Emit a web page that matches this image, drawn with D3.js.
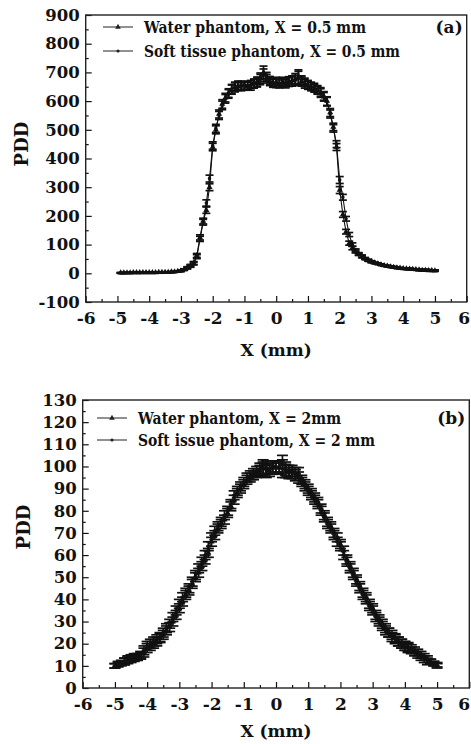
<!DOCTYPE html>
<html>
<head>
<meta charset="utf-8">
<script src="https://cdn.jsdelivr.net/npm/d3@7"></script>
<style>
  body { margin: 0; background: #fff; }
  text { font-family: "DejaVu Serif", "Liberation Serif", serif; font-weight: bold; fill: #111; }
</style>
</head>
<body>
<script>
// ---- panel (a) data : PDD vs X, X = 0.5 mm
var xTop = [-4.9,-4.8,-4.7,-4.6,-4.5,-4.4,-4.3,-4.2,-4.1,-4.0,
            -3.9,-3.8,-3.7,-3.6,-3.5,-3.4,-3.3,-3.2,-3.1,-3.0,
            -2.9,-2.8,-2.7,-2.6,-2.5,-2.4,-2.3,-2.2,-2.1,-2.0,
            -1.9,-1.8,-1.7,-1.6,-1.5,-1.4,-1.3,-1.2,-1.1,-1.0,
            -0.9,-0.8,-0.7,-0.6,-0.5,-0.4,-0.3,-0.2,-0.1,0.0,
            0.1,0.2,0.3,0.4,0.5,0.6,0.7,0.8,0.9,1.0,
            1.1,1.2,1.3,1.4,1.5,1.6,1.7,1.8,1.9,2.0,
            2.1,2.2,2.3,2.4,2.5,2.6,2.7,2.8,2.9,3.0,
            3.1,3.2,3.3,3.4,3.5,3.6,3.7,3.8,3.9,4.0,
            4.1,4.2,4.3,4.4,4.5,4.6,4.7,4.8,4.9,5.0];
var waterTop = [2,2,2,2,3,3,3,3,3,3,
                3,3,4,4,4,4,5,5,7,9,
                13,20,27,36,62,125,182,220,300,440,
                500,555,590,612,628,640,648,652,655,655,
                652,658,662,668,680,700,678,668,662,662,
                660,664,660,666,672,678,685,668,660,655,
                650,645,638,628,615,600,560,510,440,290,
                205,145,105,88,76,66,58,51,45,40,
                36,33,30,27,25,23,21,19,18,17,
                16,15,14,13,12,11,11,10,10,9];
var softTop = [1,1,2,2,2,2,2,3,3,3,
               3,3,3,3,4,4,4,5,6,8,
               12,18,25,34,58,120,178,245,330,445,
               505,550,585,608,625,642,650,655,650,652,
               655,652,660,665,675,690,685,672,665,668,
               662,668,665,670,668,672,680,672,665,658,
               652,648,640,632,618,598,555,505,450,325,
               265,190,135,100,80,68,60,52,46,41,
               37,34,31,28,26,24,22,20,18,17,
               16,15,14,13,12,12,11,11,10,10];
var errTop = [1,1,1,1,1,1,1,1,1,1,
              1,1,1,1,1,1,1,1,1,2,
              2,3,4,5,7,9,10,11,12,13,
              14,14,15,15,15,16,16,15,14,14,
              14,14,15,16,18,22,15,14,14,15,
              14,15,14,15,16,18,24,16,15,14,
              14,14,14,15,15,15,14,13,12,12,
              10,8,7,6,5,4,4,3,3,3,
              2,2,2,2,2,2,2,2,2,2,
              2,2,2,2,2,2,2,2,2,2];

// ---- panel (b) data : PDD vs X, X = 2 mm
var xBot = [-5.0,
            -4.9,-4.8,-4.7,-4.6,-4.5,-4.4,-4.3,-4.2,-4.1,-4.0,
            -3.9,-3.8,-3.7,-3.6,-3.5,-3.4,-3.3,-3.2,-3.1,-3.0,
            -2.9,-2.8,-2.7,-2.6,-2.5,-2.4,-2.3,-2.2,-2.1,-2.0,
            -1.9,-1.8,-1.7,-1.6,-1.5,-1.4,-1.3,-1.2,-1.1,-1.0,
            -0.9,-0.8,-0.7,-0.6,-0.5,-0.4,-0.3,-0.2,-0.1,0.0,
            0.1,0.2,0.3,0.4,0.5,0.6,0.7,0.8,0.9,1.0,
            1.1,1.2,1.3,1.4,1.5,1.6,1.7,1.8,1.9,2.0,
            2.1,2.2,2.3,2.4,2.5,2.6,2.7,2.8,2.9,3.0,
            3.1,3.2,3.3,3.4,3.5,3.6,3.7,3.8,3.9,4.0,
            4.1,4.2,4.3,4.4,4.5,4.6,4.7,4.8,4.9,5.0];
var waterBot = [10,
                10.5,11,12,12.5,13,13.5,14,14.5,16,18,
                19,20,21,22.5,24,26,27.5,30,33,36,
                39,42,44,47,50,52,55,58,61,66,
                69,72,74,76,79,82,85,88,90,92,
                94,95,96,97,98,99,99.5,99,100,100,
                100,101,99,98,98,97,97,94,92,90,
                88,86,84,81,78,75,73,70,68,65,
                62,58,55,52,49,46,43,41,38,36,
                33,31,29,27,25,24,22.5,21,20,19,
                18.5,18,17,16,15,14,13,12,11,10];
var softBot = [10,
               11,11.5,12,13,13.5,14,14,15,17,19,
               20,21,22,23,25,27,29,32,35,38,
               41,43,45,48,51,54,57,60,64,68,
               71,73,75,78,80,83,87,89,91,93,
               95,96,97,98,99,100,98,98,99,99,
               99,99,98,97,97,96,95,93,91,89,
               87,85,83,80,77,74,72,69,66,64,
               60,57,54,51,48,45,42,40,37,35,
               32,30,28,26,25,23,22,21,20,19,
               18,17,16,15,14,13,12,12,11,10.5];
var errBot = [1,
              1,1,1.5,1.5,1.5,1.5,1.5,1.5,2,2,
              2,2,2,2,2,2,2,2,2,2,
              2,2,2,2,2,2,2,2,2,2,
              2,2,2,2,2,2,2,2,2,2,
              2,2,2,2,2.5,3,3,2.5,2.5,2.5,
              2.5,4,3,2.5,2.5,2.5,2.5,2,2,2,
              2,2,2,2,2,2,2,2,2,2,
              2,2,2,2,2,2,2,2,2,2,
              2,2,2,2,2,2,2,2,2,2,
              2,1.5,1.5,1.5,1.5,1.5,1.5,1,1,1];

// tick labels
var xTicks = [-6,-5,-4,-3,-2,-1,0,1,2,3,4,5,6];
var xMinor = [-5.5,-4.5,-3.5,-2.5,-1.5,-0.5,0.5,1.5,2.5,3.5,4.5,5.5];
var yTicksTop = [-100,0,100,200,300,400,500,600,700,800,900];
var yMinorTop = [-50,50,150,250,350,450,550,650,750,850];
var yTicksBot = [0,10,20,30,40,50,60,70,80,90,100,110,120,130];
var yMinorBot = [5,15,25,35,45,55,65,75,85,95,105,115,125];

var legendTop = ['Water phantom, X = 0.5 mm', 'Soft tissue phantom, X = 0.5 mm'];
var legendBot = ['Water phantom, X = 2mm', 'Soft issue phantom, X = 2 mm'];

var svg = d3.select("body").append("svg")
    .attr("width", 471)
    .attr("height", 744);

drawPanel({
    left: 85.7, top: 15, width: 381, height: 287,
    yDomain: [-100, 900], yTicks: yTicksTop, yMinor: yMinorTop,
    x: xTop, water: waterTop, soft: softTop, err: errTop, cap: 4,
    legend: legendTop, legW: [222, 256], legX: 103, legY: [27, 51], tag: '(a)',
    yTitleX: 22, yTitleY: 144, xTitleY: 356
});

drawPanel({
    left: 82.7, top: 400, width: 386.6, height: 288,
    yDomain: [0, 130], yTicks: yTicksBot, yMinor: yMinorBot,
    x: xBot, water: waterBot, soft: softBot, err: errBot, cap: 5.5,
    legend: legendBot, legW: [203, 237], legX: 97, legY: [418, 440], tag: '(b)',
    yTitleX: 24, yTitleY: 527, xTitleY: 737
});

function drawPanel(p) {
    var g = svg.append("g").attr("transform", "translate(" + p.left + "," + p.top + ")");

    var x = d3.scaleLinear().domain([-6, 6]).range([0, p.width]);
    var y = d3.scaleLinear().domain(p.yDomain).range([p.height, 0]);

    // minor + major ticks (pointing inside)
    g.append("g").attr("transform", "translate(0," + p.height + ")")
        .call(d3.axisBottom(x).tickValues(xMinor).tickSize(-3).tickFormat(""));
    var xa = g.append("g").attr("transform", "translate(0," + p.height + ")")
        .call(d3.axisBottom(x).tickValues(xTicks).tickSize(-6).tickPadding(10)
            .tickFormat(function (d) { return String(d); }));
    g.append("g")
        .call(d3.axisLeft(y).tickValues(p.yMinor).tickSize(-3).tickFormat(""));
    var ya = g.append("g")
        .call(d3.axisLeft(y).tickValues(p.yTicks).tickSize(-6).tickPadding(6)
            .tickFormat(function (d) { return String(d); }));

    g.selectAll(".domain").remove();
    g.selectAll(".tick line").attr("stroke", "#111").attr("stroke-width", 1.2);
    g.selectAll(".tick text")
        .style("font-family", "'DejaVu Serif', 'Liberation Serif', serif")
        .style("font-weight", "bold");
    xa.selectAll("text").style("font-size", "17px");
    ya.selectAll("text").style("font-size", "16.5px");
    // last label sits on the page edge, keep it inside
    xa.selectAll(".tick text").filter(function (d) { return d == 6; })
        .attr("text-anchor", "end").attr("dx", 471 - p.left - p.width - 1.5);

    // frame
    g.append("rect")
        .attr("width", p.width).attr("height", p.height)
        .attr("fill", "none").attr("stroke", "#222").attr("stroke-width", 1.4);

    var series = [
        { vals: p.water, marker: "tri" },
        { vals: p.soft, marker: "dot" }
    ];

    series.forEach(function (s) {
        var pts = p.x.map(function (xv, i) { return { x: xv, y: s.vals[i], e: p.err[i] }; });

        g.append("path").datum(pts)
            .attr("fill", "none").attr("stroke", "#111").attr("stroke-width", 1.1)
            .attr("d", d3.line().x(function (d) { return x(d.x); }).y(function (d) { return y(d.y); }));

        var eb = g.append("g").attr("stroke", "#111").attr("stroke-width", 1.7);
        eb.selectAll(".ev").data(pts).enter().append("line")
            .attr("x1", function (d) { return x(d.x); }).attr("x2", function (d) { return x(d.x); })
            .attr("y1", function (d) { return y(d.y - d.e); }).attr("y2", function (d) { return y(d.y + d.e); });
        eb.selectAll(".ct").data(pts).enter().append("line")
            .attr("x1", function (d) { return x(d.x) - p.cap; }).attr("x2", function (d) { return x(d.x) + p.cap; })
            .attr("y1", function (d) { return y(d.y + d.e); }).attr("y2", function (d) { return y(d.y + d.e); });
        eb.selectAll(".cb").data(pts).enter().append("line")
            .attr("x1", function (d) { return x(d.x) - p.cap; }).attr("x2", function (d) { return x(d.x) + p.cap; })
            .attr("y1", function (d) { return y(d.y - d.e); }).attr("y2", function (d) { return y(d.y - d.e); });

        var sym = d3.symbol().type(s.marker == "tri" ? d3.symbolTriangle : d3.symbolCircle)
            .size(s.marker == "tri" ? 16 : 10);
        g.append("g").selectAll("path").data(pts).enter().append("path")
            .attr("d", sym)
            .attr("fill", "#111")
            .attr("transform", function (d) { return "translate(" + x(d.x) + "," + y(d.y) + ")"; });
    });

    // legend
    p.legend.forEach(function (label, i) {
        var ly = p.legY[i];
        svg.append("line")
            .attr("x1", p.legX).attr("x2", p.legX + 30).attr("y1", ly).attr("y2", ly)
            .attr("stroke", "#222").attr("stroke-width", 1);
        svg.append("path")
            .attr("d", d3.symbol().type(i == 0 ? d3.symbolTriangle : d3.symbolCircle).size(i == 0 ? 14 : 8))
            .attr("fill", "#222")
            .attr("transform", "translate(" + (p.legX + 15) + "," + ly + ")");
        svg.append("text")
            .attr("x", p.legX + 41).attr("y", ly).attr("dy", "0.36em")
            .attr("textLength", p.legW[i]).attr("lengthAdjust", "spacingAndGlyphs")
            .style("font-size", "16.5px")
            .text(label);
    });

    svg.append("text")
        .attr("x", p.left + p.width - 4).attr("y", p.legY[0]).attr("dy", "0.36em")
        .attr("text-anchor", "end").style("font-size", "17px")
        .text(p.tag);

    // axis titles
    svg.append("text")
        .attr("x", p.left + x(0)).attr("y", p.xTitleY)
        .attr("text-anchor", "middle").style("font-size", "17px")
        .text("X (mm)");
    svg.append("text")
        .attr("transform", "translate(" + p.yTitleX + "," + p.yTitleY + ") rotate(-90)")
        .attr("dy", "0.36em")
        .attr("text-anchor", "middle").style("font-size", "18px")
        .text("PDD");
}
</script>
</body>
</html>
